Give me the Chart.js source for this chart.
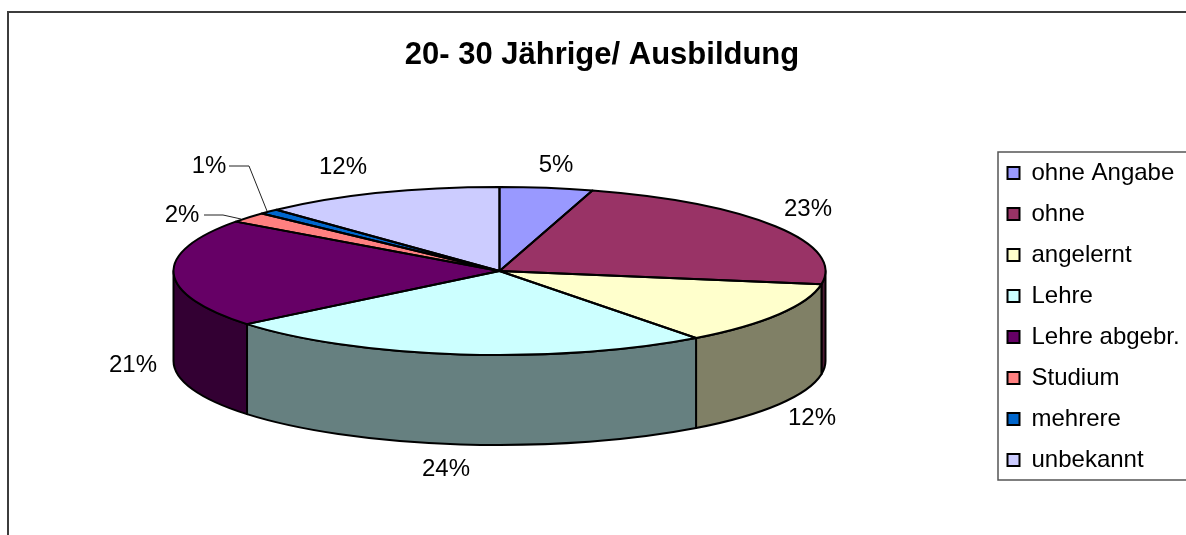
<!DOCTYPE html>
<html lang="de">
<head>
<meta charset="utf-8">
<style>html,body{margin:0;padding:0;background:#fff;overflow:hidden}canvas{display:block}</style>
<script src="https://cdn.jsdelivr.net/npm/chart.js@4/dist/chart.umd.min.js"></script>
</head>
<body>
<div style="width:1186px;height:535px"><canvas id="c" width="1186" height="535"></canvas></div>
<script>
const chartTitle = '20- 30 Jährige/ Ausbildung';
const categories = ['ohne Angabe','ohne','angelernt','Lehre','Lehre abgebr.','Studium','mehrere','unbekannt'];
const values = [4.6,22.9,12.2,24.4,20.9,2,1,12];
const sliceColors = ['#9999FF','#993366','#FFFFCC','#CCFFFF','#660066','#FF8080','#0066CC','#CCCCFF'];

const FONT = '"Liberation Sans", Arial, sans-serif';
const pie = {cx:499.5, cy:271, rx:326, ry:84, depth:90, line:2};
const legendBox = {left:998, top:152, bottom:480, right:1190};
const legendItems = {left:990.5, top:144, bottom:535};
const labelAnchors = [[556,165],[808,209],[812,418],[446,469],[133,365],[182,215],[209,166],[343,167]];
const leaders = [null,null,null,null,null,
  [[204,215],[223,215],[241,219]],
  [[229,166],[249,166],[267,211]],
  null];

function halve(hex){
  const n=parseInt(hex.slice(1),16);
  return 'rgb('+[(n>>16)&255,(n>>8)&255,n&255].map(v=>Math.round(v/2)).join(',')+')';
}
const total = values.reduce((a,b)=>a+b,0);

const pie3d = {
  id:'pie3d',
  afterLayout(chart){
    const a=chart.chartArea;
    a.left=pie.cx-pie.rx; a.right=pie.cx+pie.rx; a.top=pie.cy-pie.rx; a.bottom=pie.cy+pie.rx;
    a.width=2*pie.rx; a.height=2*pie.rx;
    const l=chart.legend;
    l.left=legendItems.left; l.right=legendBox.right; l.top=legendItems.top; l.bottom=legendItems.bottom;
    l.width=l.right-l.left; l.height=l.bottom-l.top;
  },
  beforeDraw(chart){
    const c=chart.ctx;
    c.save();
    c.strokeStyle='#3c3c3c'; c.lineWidth=2;
    c.beginPath(); c.moveTo(8,535); c.lineTo(8,12); c.lineTo(1186,12); c.stroke();
    c.strokeStyle='#555'; c.lineWidth=1.5;
    c.strokeRect(legendBox.left,legendBox.top,legendBox.right-legendBox.left,legendBox.bottom-legendBox.top);
    c.restore();
  },
  beforeDatasetsDraw(chart){
    const c=chart.ctx, arcs=chart.getDatasetMeta(0).data;
    c.save();
    c.lineWidth=pie.line; c.strokeStyle='#000'; c.lineJoin='round';
    arcs.forEach((arc,i)=>{
      const a=Math.max(arc.startAngle,0), b=Math.min(arc.endAngle,Math.PI);
      if(b<=a) return;
      c.beginPath();
      c.ellipse(arc.x,arc.y,pie.rx,pie.ry,0,a,b);
      c.ellipse(arc.x,arc.y+pie.depth,pie.rx,pie.ry,0,b,a,true);
      c.closePath();
      c.fillStyle=halve(sliceColors[i]);
      c.fill(); c.stroke();
    });
    c.restore();
    c.save();
    const k=pie.ry/pie.rx;
    c.translate(pie.cx,pie.cy); c.scale(1,k); c.translate(-pie.cx,-pie.cy);
  },
  afterDatasetsDraw(chart){
    const c=chart.ctx, arcs=chart.getDatasetMeta(0).data;
    c.restore();
    c.save();
    c.lineWidth=pie.line; c.strokeStyle='#000'; c.lineJoin='round';
    arcs.forEach(arc=>{
      c.beginPath();
      c.moveTo(arc.x,arc.y);
      c.ellipse(arc.x,arc.y,pie.rx,pie.ry,0,arc.startAngle,arc.endAngle);
      c.closePath();
      c.stroke();
    });
    c.lineWidth=1; c.strokeStyle='#222';
    leaders.forEach(p=>{
      if(!p) return;
      c.beginPath();
      p.forEach((q,j)=>j?c.lineTo(q[0],q[1]):c.moveTo(q[0],q[1]));
      c.stroke();
    });
    c.fillStyle='#000'; c.font='24px '+FONT; c.textAlign='center'; c.textBaseline='middle';
    values.forEach((v,i)=>{
      c.fillText(Math.round(v/total*100)+'%',labelAnchors[i][0],labelAnchors[i][1]);
    });
    c.restore();
  }
};

new Chart(document.getElementById('c'),{
  type:'pie',
  data:{labels:categories,datasets:[{data:values,backgroundColor:sliceColors,borderWidth:0,radius:pie.rx,clip:false}]},
  options:{
    responsive:false,animation:false,
    layout:{padding:{left:18}},
    plugins:{
      tooltip:{enabled:false},
      title:{display:true,text:chartTitle,color:'#000',font:{family:FONT,size:31,weight:'bold'},padding:{top:37,bottom:10}},
      legend:{
        position:'right',align:'start',
        labels:{
          color:'#000',font:{family:FONT,size:24},boxWidth:12,boxHeight:12,padding:17,
          generateLabels(){
            return categories.map((text,i)=>({text,fillStyle:sliceColors[i],strokeStyle:'#000',lineWidth:2,hidden:false,index:i,fontColor:'#000'}));
          }
        }
      }
    }
  },
  plugins:[pie3d]
});
</script>
</body>
</html>
